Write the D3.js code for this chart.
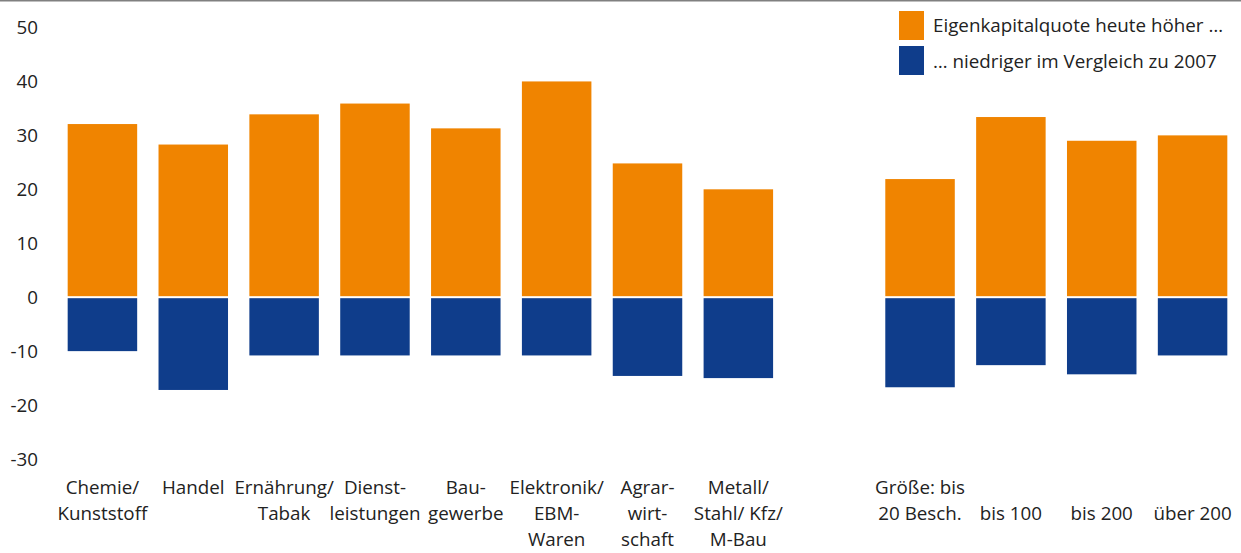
<!DOCTYPE html>
<html>
<head>
<meta charset="utf-8">
<script src="https://cdn.jsdelivr.net/npm/d3@7"></script>
<style>
  html, body { margin: 0; padding: 0; background: #fff; }
  svg text { font-family: "Open Sans", "Noto Sans", sans-serif; fill: #222; }
</style>
</head>
<body>
<svg id="chart" width="1241" height="553"></svg>
<script>
// ---- data ----
const categories = [
  "Chemie/\nKunststoff", "Handel", "Ernährung/\nTabak", "Dienst-\nleistungen",
  "Bau-\ngewerbe", "Elektronik/\nEBM-\nWaren", "Agrar-\nwirt-\nschaft",
  "Metall/\nStahl/ Kfz/\nM-Bau", "",
  "Größe: bis\n20 Besch.", "\nbis 100", "\nbis 200", "\nüber 200"
];
const higherValues = [32.1, 28.3, 33.9, 35.9, 31.3, 40.0, 24.8, 20.0, null, 21.9, 33.4, 29.0, 30.0];
const lowerValues  = [-10.0, -17.2, -10.8, -10.8, -10.8, -10.8, -14.6, -15.0, null, -16.7, -12.6, -14.3, -10.8];
const yTicks = [50, 40, 30, 20, 10, 0, -10, -20, -30];
const seriesNames = ["Eigenkapitalquote heute höher …", "… niedriger im Vergleich zu 2007"];
const seriesColors = ["#F08400", "#0F3D8B"];

// ---- drawing ----
const svg = d3.select("#chart");
const W = 1241, H = 553;
const fontSize = 18.8;

svg.append("line").attr("x1", 0).attr("x2", W).attr("y1", 0.75).attr("y2", 0.75)
  .attr("stroke", "#808080").attr("stroke-width", 1.5);

const keys = categories.map((c, i) => "k" + i);
const x = d3.scaleBand().domain(keys).range([57, 1238]).paddingInner(0.235).paddingOuter(0.1175);
const y = d3.scaleLinear().domain([-30, 50]).range([459, 27.5]);
const y0 = y(0);

// y axis labels (hyphen-minus as in the reference)
const yAxis = d3.axisLeft(y).tickValues(yTicks).tickSize(0).tickPadding(0).tickFormat(d => String(d));
const yg = svg.append("g").attr("transform", "translate(38,0)").call(yAxis);
yg.select(".domain").remove();
yg.selectAll("text").attr("font-size", fontSize).attr("fill", "#222")
  .style("font-family", '"Open Sans", "Noto Sans", sans-serif');

// bars
const data = keys.map((k, i) => ({ k, hi: higherValues[i], lo: lowerValues[i] })).filter(d => d.hi !== null);
svg.append("g").selectAll("rect").data(data).join("rect")
  .attr("x", d => x(d.k)).attr("width", x.bandwidth())
  .attr("y", d => y(d.hi)).attr("height", d => y0 - y(d.hi) - 1)
  .attr("fill", seriesColors[0]);
svg.append("g").selectAll("rect").data(data).join("rect")
  .attr("x", d => x(d.k)).attr("width", x.bandwidth())
  .attr("y", y0 + 1).attr("height", d => y(d.lo) - y0 - 1)
  .attr("fill", seriesColors[1]);

// x labels
const xg = svg.append("g");
keys.forEach((k, i) => {
  const lines = categories[i].split("\n");
  const t = xg.append("text").attr("text-anchor", "middle").attr("font-size", fontSize)
    .attr("x", x(k) + x.bandwidth() / 2);
  lines.forEach((ln, j) => {
    t.append("tspan").attr("x", x(k) + x.bandwidth() / 2).attr("y", 494 + j * 26).text(ln);
  });
});

// legend
const lg = svg.append("g");
seriesNames.forEach((n, i) => {
  lg.append("rect").attr("x", 899).attr("y", 11 + i * 35).attr("width", 25).attr("height", 29)
    .attr("fill", seriesColors[i]);
  lg.append("text").attr("x", 933).attr("y", 32 + i * 36).attr("font-size", fontSize).text(n);
});
</script>
</body>
</html>
